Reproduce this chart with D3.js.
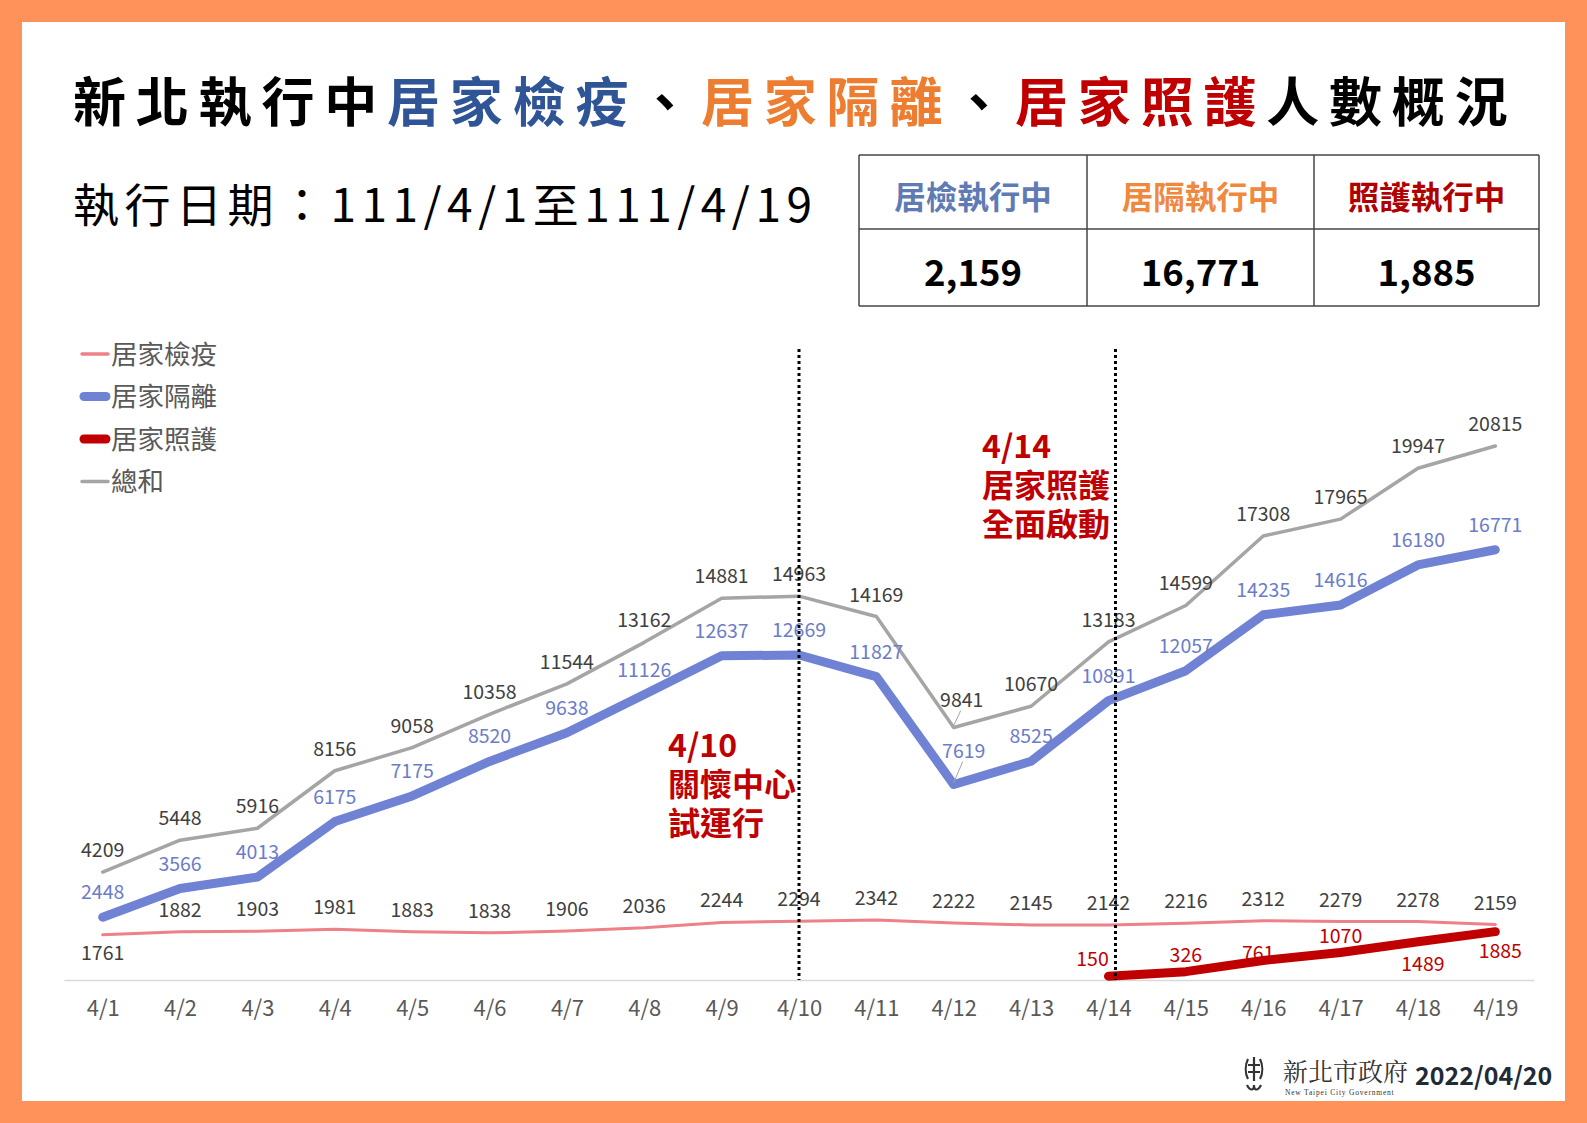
<!DOCTYPE html>
<html>
<head>
<meta charset="utf-8">
<script src="https://cdn.jsdelivr.net/npm/d3@7"></script>
<style>
	body { margin: 0; background: #fe925a; }
	svg { display: block; font-family: "Noto Sans CJK TC", "Noto Sans", sans-serif; }
</style>
</head>
<body>
<div id="chart"></div>
<script>
// 日期與各序列人數
const dates = ['4/1','4/2','4/3','4/4','4/5','4/6','4/7','4/8','4/9','4/10',
	'4/11','4/12','4/13','4/14','4/15','4/16','4/17','4/18','4/19'];
const quarantine = [1761,1882,1903,1981,1883,1838,1906,2036,2244,2294,
	2342,2222,2145,2142,2216,2312,2279,2278,2159];
const isolation = [2448,3566,4013,6175,7175,8520,9638,11126,12637,12669,
	11827,7619,8525,10891,12057,14235,14616,16180,16771];
const care = [null,null,null,null,null,null,null,null,null,null,
	null,null,null,150,326,761,1070,1489,1885];
const total = [4209,5448,5916,8156,9058,10358,11544,13162,14881,14963,
	14169,9841,10670,13183,14599,17308,17965,19947,20815];
const seriesNames = ['居家檢疫','居家隔離','居家照護','總和'];
const summaryHeads = ['居檢執行中','居隔執行中','照護執行中'];
const markers = ['4/10','4/14'];
const markerNotes = [['4/10','關懷中心','試運行'], ['4/14','居家照護','全面啟動']];

let W = 1587, H = 1123;

let svg = d3.select('#chart')
	.append('svg')
	.attr('width', W)
	.attr('height', H);

svg.append('rect').attr('width', W).attr('height', H).attr('fill', '#fe925a');
svg.append('rect')
	.attr('x', 22).attr('y', 22)
	.attr('width', W - 44).attr('height', H - 44)
	.attr('fill', '#fff');

// title
let title = svg.append('text')
	.attr('x', 73).attr('y', 122)
	.attr('font-size', 53)
	.attr('font-weight', 700)
	.attr('letter-spacing', 9.8);
[['新北執行中', '#000'], ['居家檢疫', '#2f5597'], ['、', '#000'], ['居家隔離', '#ed7d31'],
	['、', '#000'], ['居家照護', '#c00000'], ['人數概況', '#000']].forEach(function(p){
	title.append('tspan').attr('fill', p[1]).text(p[0]);
});

svg.append('text')
	.attr('x', 73).attr('y', 222)
	.attr('font-size', 46)
	.attr('letter-spacing', 5.5)
	.attr('fill', '#000')
	.text('執行日期：111/4/1至111/4/' + dates[dates.length - 1].split('/')[1]);

// summary table
let fmt = d3.format(','),
	last = dates.length - 1,
	summaryVals = [quarantine[last], isolation[last], care[last]].map(fmt),
	headColors = ['#5f7bb4', '#f0883e', '#b00000'],
	colX = [859, 1087, 1314, 1539],
	rowY = [155, 229, 306];

let table = svg.append('g').attr('class', 'summary');
rowY.forEach(function(yy){
	table.append('line').attr('x1', colX[0]).attr('x2', colX[3]).attr('y1', yy).attr('y2', yy)
		.attr('stroke', '#444').attr('stroke-width', 1.5);
});
colX.forEach(function(xx){
	table.append('line').attr('x1', xx).attr('x2', xx).attr('y1', rowY[0]).attr('y2', rowY[2])
		.attr('stroke', '#444').attr('stroke-width', 1.5);
});
summaryHeads.forEach(function(h, i){
	let cx = (colX[i] + colX[i + 1]) / 2;
	table.append('text').attr('x', cx).attr('y', 209)
		.attr('text-anchor', 'middle').attr('font-size', 31.5).attr('font-weight', 700)
		.attr('fill', headColors[i]).text(h);
	table.append('text').attr('x', cx).attr('y', 286)
		.attr('text-anchor', 'middle').attr('font-size', 36.5).attr('font-weight', 700)
		.attr('fill', '#000').text(summaryVals[i]);
});

// chart
let x = d3.scalePoint()
	.domain(dates)
	.range([64, 1534])
	.padding(0.5);

let y = d3.scaleLinear()
	.domain([0, 22000])
	.range([980, 415.6]);

let xAxis = d3.axisBottom(x)
	.tickSize(0)
	.tickSizeOuter(0)
	.tickPadding(20);

let g = svg.append('g');

g.append('g')
	.attr('class', 'axis axis--x')
	.attr('transform', 'translate(0,' + y(0) + ')')
	.call(xAxis)
	.call(function(a){
		a.select('.domain').attr('stroke', '#d9d9d9').attr('stroke-width', 1.5);
		a.selectAll('text').attr('font-size', 22).attr('fill', '#595959')
			.attr('font-family', '"Noto Sans CJK TC", sans-serif');
	});

let series = [
	{name: seriesNames[0], values: quarantine, color: '#ee8088', width: 3,   label: '#404040'},
	{name: seriesNames[1], values: isolation,  color: '#6f82d4', width: 9,   label: '#6b7cc9'},
	{name: seriesNames[2], values: care,       color: '#c00000', width: 9,   label: '#c00000'},
	{name: seriesNames[3], values: total,      color: '#a5a5a5', width: 3.5, label: '#404040'}
];

let line = d3.line()
	.defined(function(d){ return d != null; })
	.x(function(d, i){ return x(dates[i]); })
	.y(function(d){ return y(d); });

[3, 0, 1, 2].forEach(function(k){
	let s = series[k];
	g.append('path')
		.datum(s.values)
		.attr('fill', 'none')
		.attr('stroke', s.color)
		.attr('stroke-width', s.width)
		.attr('stroke-linejoin', 'round')
		.attr('stroke-linecap', 'round')
		.attr('d', line);
});

// label placement: default above the point, a few moved by hand like the original
let labelDy = {0: -15, 1: -18, 2: -10, 3: -15};
let tweak = {
	'0|0':  {dy: 25},
	'2|13': {dx: -16},
	'2|15': {dx: -5, dy: 0},
	'2|17': {dx: 5, dy: 29},
	'2|18': {dx: 5, dy: 26},
	'3|11': {dx: 8, dy: -21, leader: true},
	'1|11': {dx: 10, dy: -27, leader: true}
};

series.forEach(function(s, k){
	let lg = g.append('g').attr('class', 'labels');
	s.values.forEach(function(v, i){
		if (v == null) return;
		let t = tweak[k + '|' + i] || {},
			px = x(dates[i]), py = y(v),
			dx = t.dx || 0,
			dy = (t.dy !== undefined) ? t.dy : labelDy[k];
		if (t.leader) {
			lg.append('line')
				.attr('x1', px).attr('y1', py - 2)
				.attr('x2', px + dx - 1).attr('y2', py + dy + 4)
				.attr('stroke', '#a5a5a5').attr('stroke-width', 1);
		}
		lg.append('text')
			.attr('x', px + dx)
			.attr('y', py + dy)
			.attr('text-anchor', 'middle')
			.attr('font-size', 19.5)
			.attr('fill', s.label)
			.text(v);
	});
});

// dotted marker lines
markers.forEach(function(m, i){
	let mx = x(m) + (i == 1 ? 7 : 0);
	g.append('line')
		.attr('x1', mx).attr('x2', mx)
		.attr('y1', 349).attr('y2', y(0))
		.attr('stroke', '#000')
		.attr('stroke-width', 3)
		.attr('stroke-dasharray', '3,3');
});

let notePos = [[668, 757], [982, 458]];
markerNotes.forEach(function(lines, i){
	lines.forEach(function(l, j){
		g.append('text')
			.attr('x', notePos[i][0]).attr('y', notePos[i][1] + j * 39)
			.attr('font-size', 32).attr('font-weight', 700)
			.attr('fill', '#c00000')
			.text(l);
	});
});

// legend
let legend = svg.append('g').attr('transform', 'translate(81,354)');
series.forEach(function(s, k){
	let row = legend.append('g').attr('transform', 'translate(0,' + (k * 42.5) + ')');
	row.append('line')
		.attr('x1', s.width > 5 ? 3 : 1).attr('x2', s.width > 5 ? 25 : 27)
		.attr('stroke', s.color)
		.attr('stroke-width', s.width > 5 ? 9 : 3.5)
		.attr('stroke-linecap', 'round');
	row.append('text')
		.attr('x', 30).attr('y', 9.5)
		.attr('font-size', 26.5)
		.attr('fill', '#595959')
		.text(s.name);
});

// footer
let foot = svg.append('g').attr('transform', 'translate(1245,1055)');
let logo = foot.append('g').attr('stroke', '#333').attr('fill', 'none').attr('stroke-width', 2.2);
logo.append('path').attr('d', 'M3,4 C0,10 0,18 3,24 M9,2 L9,26 M15,4 C18,10 18,18 15,24 M3,10 L15,10 M3,17 L15,17');
logo.append('path').attr('d', 'M2,30 C5,36 9,36 9,30 C9,36 13,36 16,30');
foot.append('text')
	.attr('x', 38).attr('y', 26)
	.attr('font-size', 25)
	.attr('font-family', '"Noto Serif CJK TC", "Noto Sans CJK TC", serif')
	.attr('fill', '#333')
	.text('新北市政府');
foot.append('text')
	.attr('x', 40).attr('y', 40)
	.attr('font-size', 7.5)
	.attr('font-family', '"Liberation Serif", serif')
	.attr('letter-spacing', 0.8)
	.attr('fill', '#333')
	.text('New Taipei City Government');
foot.append('text')
	.attr('x', 170).attr('y', 30)
	.attr('font-size', 25)
	.attr('font-weight', 700)
	.attr('fill', '#222a35')
	.text('2022/04/20');
</script>
</body>
</html>
